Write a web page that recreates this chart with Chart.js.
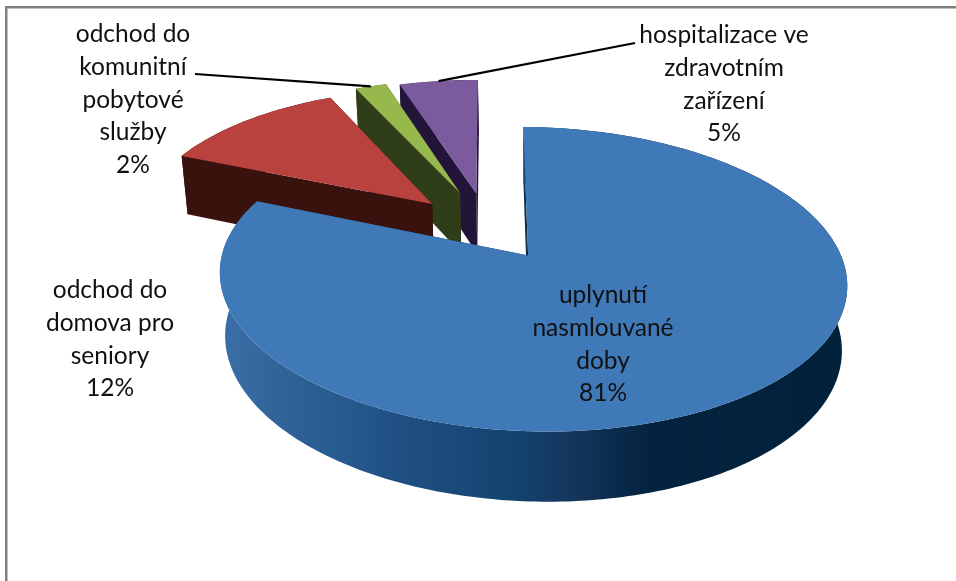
<!DOCTYPE html>
<html>
<head>
<meta charset="utf-8">
<title>Ukončení pobytu</title>
<script src="https://cdn.jsdelivr.net/npm/chart.js@4"></script>
<style>
  body { margin: 0; background: #fff; }
  canvas { display: block; }
</style>
</head>
<body>
<canvas id="pie" width="956" height="581"></canvas>
<script>
// Slice data, in drawing order of the pie (clockwise from 12 o'clock)
const categories = ['uplynutí nasmlouvané doby', 'odchod do domova pro seniory', 'odchod do komunitní pobytové služby', 'hospitalizace ve zdravotním zařízení'];
const values = [81, 12, 2, 5];
const labelLines = [
    ['uplynutí', 'nasmlouvané', 'doby'],
    ['odchod do', 'domova pro', 'seniory'],
    ['odchod do', 'komunitní', 'pobytové', 'služby'],
    ['hospitalizace ve', 'zdravotním', 'zařízení']
];

// Look of the slices
const faceColors = ['#3f79b8', '#b9413e', '#97b84d', '#7b5a9d'];
const wallColors = ['#0e2c47', '#39120e', '#2f3d18', '#231539'];
const explode = [51, 71, 76, 71];           // px, same unit as the chart's outerRadius
const nudgeX = [1, 0, 0, -3];               // small sideways shift of a whole slice
const paintOrder = [3, 2, 1, 0];            // far slices first, big blue one last
const labelAnchors = [[603, 295], [110, 290], [133, 34], [724, 35]];  // first line of each label
const leaderStarts = [null, null, [195, 74], [635, 43]];

// Gradient along the front wall of the big slice
const wallStops = [[222, '#3a6ea6'], [300, '#2d6194'], [400, '#205083'], [510, '#134470'], [570, '#15365c'], [650, '#03233e'], [840, '#02213b']];

// Perspective of the pie plane: unit disc -> page
const cam = { cx: 492, cy: 231, a: 301, b: 106, w: 0.151, q: 0.014, depth: 62, depthPow: 0.63, squeeze: 0.983, squeezeX: 532 };

function project(u, v, dx = 0) {
    const den = 1 - cam.w * v - cam.q * u;
    return [cam.cx + dx + cam.a * u / den, (cam.cy + cam.b * v) / den, den];
}

// Same point on the lower plane of the pie
function lower(u, v, dx = 0) {
    const p = project(u, v, dx);
    return [cam.squeezeX + (p[0] - cam.squeezeX) * cam.squeeze, p[1] + cam.depth / Math.pow(p[2], cam.depthPow)];
}

function pathFrom(ctx, pts) {
    ctx.beginPath();
    pts.forEach((p, i) => i ? ctx.lineTo(p[0], p[1]) : ctx.moveTo(p[0], p[1]));
    ctx.closePath();
}

const pie3d = {
    id: 'pie3d',
    // Replaces the flat drawing: the arcs are laid out by Chart.js, only the projection is done here
    beforeDatasetsDraw(chart) {
        const ctx = chart.ctx;
        const arcs = chart.getDatasetMeta(0).data;

        // chart frame, only top and left sides show
        ctx.fillStyle = '#808080';
        ctx.fillRect(5, 6, 951, 2.5);
        ctx.fillRect(5, 6, 2.5, 575);

        paintOrder.forEach(i => {
            const arc = arcs[i];
            const R = arc.outerRadius;
            const mid = (arc.startAngle + arc.endAngle) / 2;
            const off = arc.options.offset / R;
            const u0 = Math.cos(mid) * off;
            const v0 = Math.sin(mid) * off;
            const dx = nudgeX[i];

            const rim = [];
            const steps = Math.ceil((arc.endAngle - arc.startAngle) * 180 / Math.PI);
            for (let s = 0; s <= steps; s++) {
                const t = arc.startAngle + (arc.endAngle - arc.startAngle) * s / steps;
                rim.push([u0 + Math.cos(t), v0 + Math.sin(t)]);
            }
            const first = rim[0];
            const last = rim[rim.length - 1];

            // radial walls
            ctx.fillStyle = wallColors[i];
            [first, last].forEach(e => {
                pathFrom(ctx, [project(u0, v0, dx), project(e[0], e[1], dx), lower(e[0], e[1], dx), lower(u0, v0, dx)]);
                ctx.fill();
            });

            // outer wall
            if (i === 0) {
                const grad = ctx.createLinearGradient(222, 0, 840, 0);
                wallStops.forEach(s => grad.addColorStop((s[0] - 222) / (840 - 222), s[1]));
                ctx.fillStyle = grad;
            }
            pathFrom(ctx, rim.map(p => project(p[0], p[1], dx)).concat(rim.slice().reverse().map(p => lower(p[0], p[1], dx))));
            ctx.fill();

            // top face
            ctx.fillStyle = arc.options.backgroundColor;
            pathFrom(ctx, [project(u0, v0, dx)].concat(rim.map(p => project(p[0], p[1], dx))));
            ctx.fill();
        });

        // leader lines run to the middle of the slice's rim
        ctx.strokeStyle = '#000';
        ctx.lineWidth = 2.2;
        leaderStarts.forEach((start, i) => {
            if (!start) return;
            const arc = arcs[i];
            const mid = (arc.startAngle + arc.endAngle) / 2;
            const off = arc.options.offset / arc.outerRadius;
            const end = project(Math.cos(mid) * (off + 1), Math.sin(mid) * (off + 1), nudgeX[i]);
            ctx.beginPath();
            ctx.moveTo(start[0], start[1]);
            ctx.lineTo(end[0], end[1]);
            ctx.stroke();
        });

        // labels
        const total = values.reduce((a, b) => a + b, 0);
        ctx.fillStyle = '#111';
        ctx.font = '24.5px Lato';
        ctx.textAlign = 'center';
        ctx.textBaseline = 'middle';
        labelLines.forEach((lines, i) => {
            const rows = lines.concat(Math.round(values[i] / total * 100) + '%');
            rows.forEach((row, r) => ctx.fillText(row, labelAnchors[i][0], labelAnchors[i][1] + r * 32.8));
        });
        return false;
    }
};

new Chart(document.querySelector('#pie').getContext('2d'), {
    type: 'pie',
    data: {
        labels: categories,
        datasets: [{
            data: values,
            backgroundColor: faceColors,
            offset: explode,
            borderWidth: 0
        }]
    },
    options: {
        responsive: false,
        animation: false,
        plugins: { legend: { display: false }, tooltip: { enabled: false } }
    },
    plugins: [pie3d]
});
</script>
</body>
</html>
